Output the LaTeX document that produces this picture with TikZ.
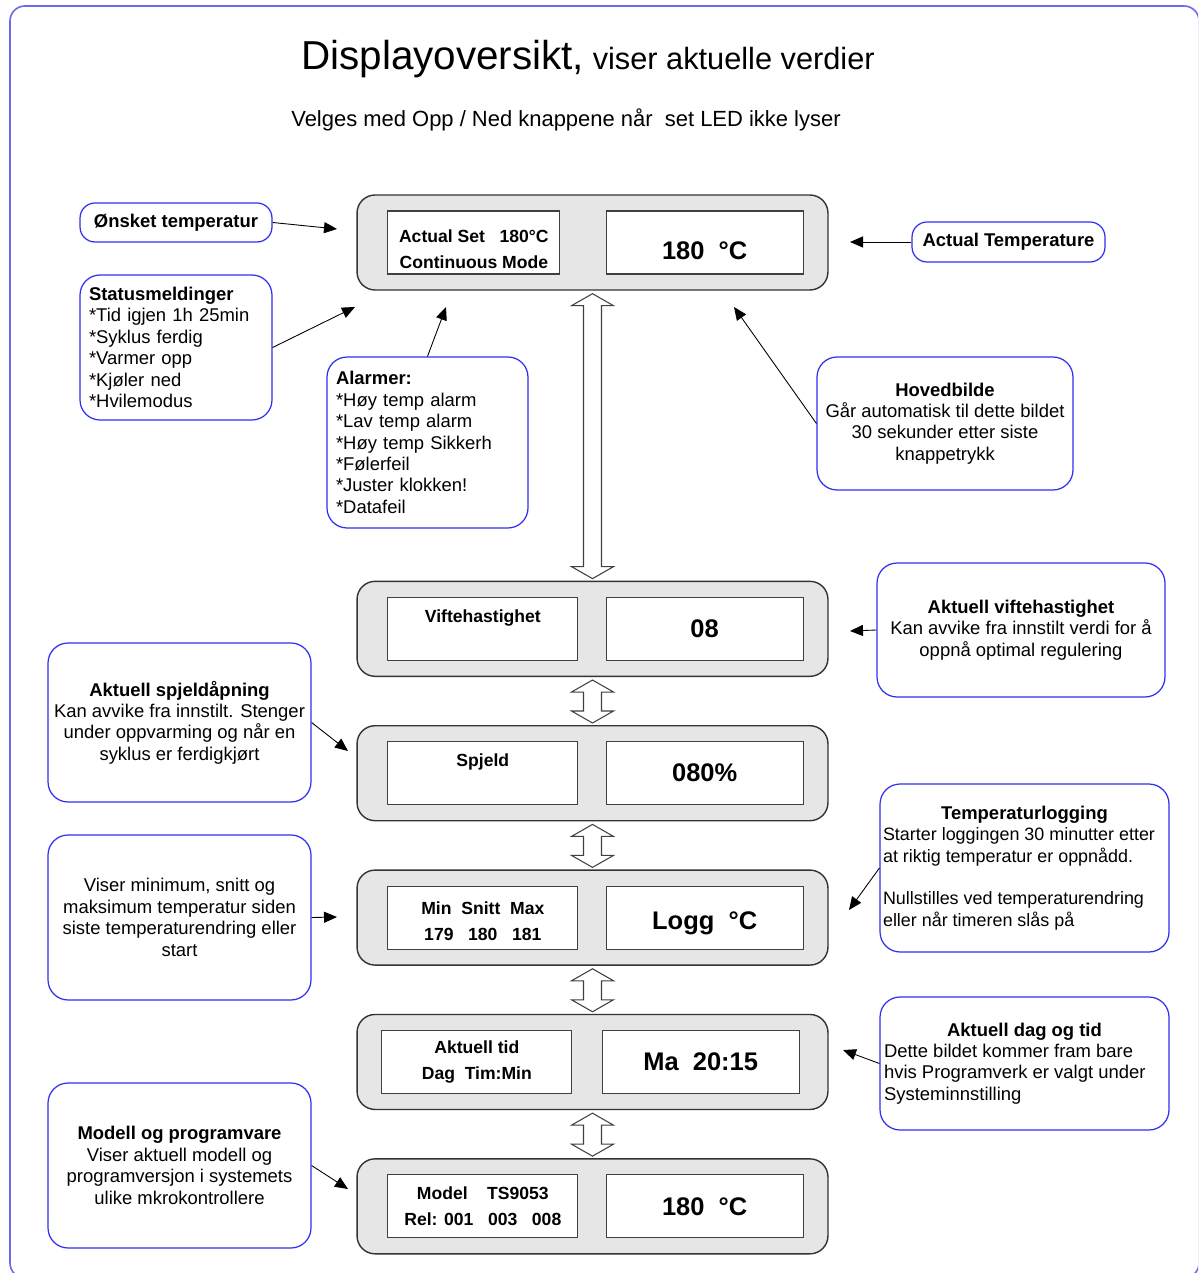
\documentclass[tikz,border=0pt]{standalone}
\usepackage{fontspec}
\setmainfont{Liberation Sans}
\usepackage{tikz}
\usetikzlibrary{arrows.meta, positioning, calc}

\definecolor{frameblue}{RGB}{104,104,240}
\definecolor{noteblue}{RGB}{48,48,242}
\definecolor{panelgray}{RGB}{230,230,230}

% hollow up/down arrow between two display panels
\newcommand{\updown}[2]{%
  \draw[hollow] ($(#1.south)+(0,3)$) -- ++(21,12) -- ++(-12,0)
    -- ($(#2.north)+(9,-14)$) -- ++(12,0) -- ($(#2.north)+(0,-2)$)
    -- ++(-21,-12) -- ++(12,0) -- ($(#1.south)+(-9,15)$) -- ++(-12,0) -- cycle;}

\begin{document}
\begin{tikzpicture}[x=0.02cm, y=-0.02cm,
        panel/.style={rectangle, rounded corners=0.36cm, draw=black!80, fill=panelgray, line width=0.8pt, minimum width=9.42cm, minimum height=1.9cm},
        lcd/.style={rectangle, draw=black!75, fill=white, line width=0.6pt, minimum width=3.8cm, minimum height=1.26cm, inner sep=0pt, align=center, font=\fontsize{10}{14.8}\selectfont\bfseries},
        lcdvalue/.style={lcd, minimum width=3.94cm, font=\fontsize{14.5}{17}\selectfont\bfseries},
        note/.style={rectangle, rounded corners=0.4cm, draw=noteblue, line width=0.7pt, fill=white, align=center, inner sep=0.12cm, font=\fontsize{10.5}{12.2}\selectfont},
        tag/.style={note, rounded corners=0.3cm, font=\fontsize{10.5}{12.2}\selectfont\bfseries},
        pointer/.style={-{Triangle[length=7.4pt, width=6.3pt]}, line width=0.5pt},
        hollow/.style={draw=black!75, fill=white, line width=0.6pt}
    ]
    \path[use as bounding box] (0,0) rectangle (1198,1273);
    \clip (0,0) rectangle (1198,1273);
    \draw[frameblue, line width=0.9pt, rounded corners=0.3cm] (10,6) rectangle (1199,1278);

    \node[anchor=base] (title) at (588,70) {\fontsize{23}{27}\selectfont Displayoversikt,{\fontsize{17.5}{20}\selectfont{} viser aktuelle verdier}};
    \node[anchor=base] (subtitle) at (566,127) {\fontsize{12.5}{14}\selectfont Velges med Opp / Ned knappene når~~set LED ikke lyser};

    % Display panels
    \node[panel] (p1) at (592.5,242.5) {};
    \node[panel, below=5.8cm of p1] (p2) {};
    \node[panel, below=0.96cm of p2] (p3) {};
    \node[panel, below=0.96cm of p3] (p4) {};
    \node[panel, below=0.96cm of p4] (p5) {};
    \node[panel, below=0.96cm of p5] (p6) {};

    \node[lcd, minimum width=3.44cm, right=0.62cm of p1.west] (setpoint) {\rule{0pt}{15pt}Actual Set~~~180°C\\Continuous Mode};
    \node[lcdvalue, left=0.5cm of p1.east] (temp) {\rule{0pt}{20pt}180~~°C};
    \node[lcd, right=0.62cm of p2.west] (fanlabel) {Viftehastighet\\~};
    \node[lcdvalue, left=0.5cm of p2.east] (fan) {08};
    \node[lcd, right=0.62cm of p3.west] (damperlabel) {Spjeld\\~};
    \node[lcdvalue, left=0.5cm of p3.east] (damper) {080\%};
    \node[lcd, right=0.62cm of p4.west] (logrange) {\rule{0pt}{11pt}Min~~Snitt~~Max\\179~~~180~~~181};
    \node[lcdvalue, left=0.5cm of p4.east] (logvalue) {\rule{0pt}{17pt}Logg~~°C};
    \node[lcd, right=0.5cm of p5.west] (daytime) {Aktuell tid\\Dag~~Tim:Min};
    \node[lcdvalue, left=0.58cm of p5.east] (clock) {Ma~~20:15};
    \node[lcd, right=0.62cm of p6.west] (model) {Model~~~~TS9053\\Rel: 001~~~003~~~008};
    \node[lcdvalue, left=0.5cm of p6.east] (version) {180~~°C};

    \updown{p1}{p2}
    \updown{p2}{p3}
    \updown{p3}{p4}
    \updown{p4}{p5}
    \updown{p5}{p6}

    % Notes
    \node[tag, minimum width=3.84cm, minimum height=0.78cm] (wanted) at (176,222.5) {Ønsket temperatur};
    \node[note, align=left, text width=3.48cm, inner xsep=0.18cm, minimum height=2.9cm] (status) at (176,347.5)
        {\textbf{Statusmeldinger}\\{*}Tid igjen 1h 25min\\{*}Syklus ferdig\\{*}Varmer opp\\{*}Kjøler ned\\{*}Hvilemodus};
    \node[note, align=left, text width=3.66cm, inner xsep=0.18cm, minimum height=3.42cm] (alarms) at (427.5,442.5)
        {\textbf{Alarmer:}\\{*}Høy temp alarm\\{*}Lav temp alarm\\{*}Høy temp Sikkerh\\{*}Følerfeil\\{*}Juster klokken!\\{*}Datafeil};
    \node[tag, minimum width=3.86cm, minimum height=0.8cm] (actual) at (1008.5,242) {Actual Temperature};
    \node[note, minimum width=5.12cm, minimum height=2.66cm] (mainview) at (945,423.5)
        {\textbf{Hovedbilde}\\Går automatisk til dette bildet\\30 sekunder etter siste\\knappetrykk};
    \node[note, minimum width=5.76cm, minimum height=2.68cm] (fannote) at (1021,630)
        {\textbf{Aktuell viftehastighet}\\Kan avvike fra innstilt verdi for å\\oppnå optimal regulering};
    \node[note, minimum width=5.26cm, minimum height=3.18cm] (dampernote) at (179.5,722.5)
        {\textbf{Aktuell spjeldåpning}\\Kan avvike fra innstilt. Stenger\\under oppvarming og når en\\syklus er ferdigkjørt};
    \node[note, minimum width=5.26cm, minimum height=3.3cm] (rangenote) at (179.5,917.5)
        {Viser minimum, snitt og\\maksimum temperatur siden\\siste temperaturendring eller\\start};
    \node[note, align=flush left, text width=5.66cm, inner xsep=0.06cm, minimum height=3.36cm, font=\fontsize{10.2}{12.2}\selectfont] (lognote) at (1024.5,868)
        {\makebox[\linewidth]{\fontsize{10.5}{12.2}\selectfont\bfseries Temperaturlogging}\\Starter loggingen 30 minutter etter\\at riktig temperatur er oppnådd.\\~\\Nullstilles ved temperaturendring\\eller når timeren slås på};
    \node[note, align=flush left, text width=5.62cm, inner xsep=0.08cm, minimum height=2.66cm] (clocknote) at (1024.5,1063.5)
        {\makebox[\linewidth]{\bfseries Aktuell dag og tid}\\Dette bildet kommer fram bare\\hvis Programverk er valgt under\\Systeminnstilling};
    \node[note, minimum width=5.26cm, minimum height=3.3cm] (modelnote) at (179.5,1165.5)
        {\textbf{Modell og programvare}\\Viser aktuell modell og\\programversjon i systemets\\ulike mkrokontrollere};

    % Pointers
    \coordinate (wantedtip) at (337,229);
    \coordinate (statustip) at (355,307);
    \coordinate (alarmtip) at (446,307);
    \coordinate (actualtip) at (850,242);
    \coordinate (maintip) at (734,307);
    \coordinate (fantip) at (850,631);
    \coordinate (dampertip) at (348,751);
    \coordinate (rangetip) at (337,917);
    \coordinate (logtip) at (849,910);
    \coordinate (clocktip) at (843,1050);
    \coordinate (modeltip) at (348,1189);

    \draw[pointer] (wanted.east) -- (wantedtip);
    \draw[pointer] (status.east) -- (statustip);
    \draw[pointer] (alarms.north) -- (alarmtip);
    \draw[pointer] (actual.west) -- (actualtip);
    \draw[pointer] (mainview.west) -- (maintip);
    \draw[pointer] (fannote.west) -- (fantip);
    \draw[pointer] (dampernote.east) -- (dampertip);
    \draw[pointer] (rangenote.east) -- (rangetip);
    \draw[pointer] (lognote.west) -- (logtip);
    \draw[pointer] (clocknote.west) -- (clocktip);
    \draw[pointer] (modelnote.east) -- (modeltip);
\end{tikzpicture}
\end{document}
